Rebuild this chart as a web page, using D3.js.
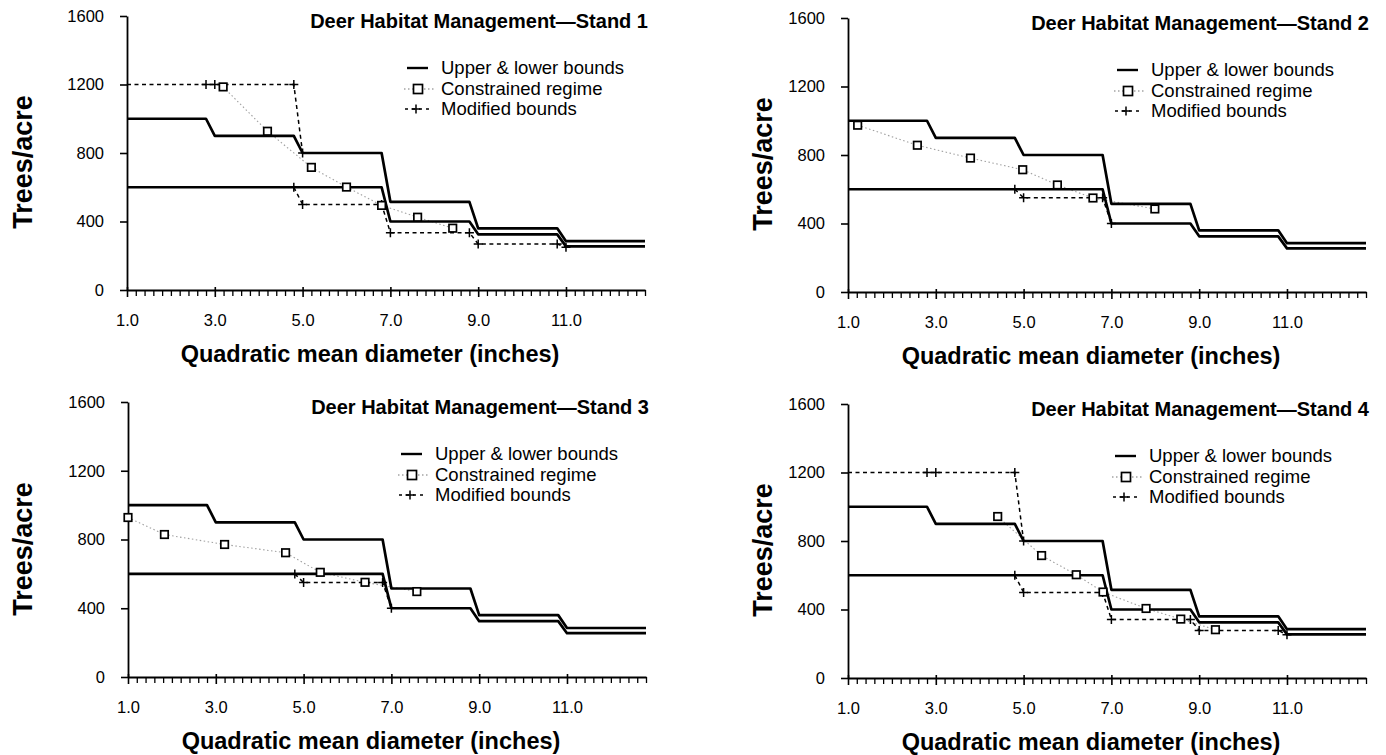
<!DOCTYPE html>
<html>
<head>
<meta charset="utf-8">
<script src="https://cdn.jsdelivr.net/npm/d3@7"></script>
<style>
  body { margin: 0; background: #fff; }
  text { font-family: "Liberation Sans", Arial, Helvetica, sans-serif; fill: #000; }
</style>
</head>
<body>
<svg id="chart" width="1386" height="755"></svg>
<script>
// ---- data -------------------------------------------------------------
const standTitles = [
  "Deer Habitat Management\u2014Stand 1",
  "Deer Habitat Management\u2014Stand 2",
  "Deer Habitat Management\u2014Stand 3",
  "Deer Habitat Management\u2014Stand 4"
];
const legendLabels = ["Upper & lower bounds", "Constrained regime", "Modified bounds"];
const yTickValues = [0, 400, 800, 1200, 1600];
const xTickValues = [1, 3, 5, 7, 9, 11];
const xTickLabels = ["1.0", "3.0", "5.0", "7.0", "9.0", "11.0"];
const xTitle = "Quadratic mean diameter (inches)";
const yTitle = "Trees/acre";

// stocking bounds shared by all stands (diameter, trees/acre)
const boundDiam  = [1.0, 2.8, 3.0, 4.8, 5.0, 6.8, 7.0, 8.8, 9.0, 10.8, 11.0, 12.8];
const upperBound = [1000, 1000, 900, 900, 800, 800, 515, 515, 360, 360, 285, 285];
const lowerBound = [600, 600, 600, 600, 600, 600, 400, 400, 325, 325, 255, 255];

// constrained regimes (diameter, trees/acre)
const regime1 = [[3.19, 1186], [4.2, 927], [5.2, 716], [6.0, 601], [6.8, 494], [7.62, 425], [8.42, 361]];
const regime2 = [[1.22, 974], [2.58, 857], [3.79, 782], [4.98, 714], [5.77, 625], [6.58, 549], [7.99, 485]];
const regime3 = [[1.0, 928], [1.83, 829], [3.2, 771], [4.59, 723], [5.38, 609], [6.4, 551], [7.58, 497]];
const regime4 = [[4.41, 943], [5.41, 715], [6.2, 603], [6.81, 502], [7.79, 406], [8.58, 344], [9.37, 282]];

// modified bounds (diameter, trees/acre)
const modUpper1 = [[1.0, 1200], [2.8, 1200], [3.0, 1200], [4.8, 1200], [5.0, 800]];
const modLower1 = [[4.8, 600], [5.0, 500], [6.8, 500], [7.0, 335], [8.8, 335], [9.0, 268], [10.8, 268], [11.0, 250]];
const modUpper2 = [];
const modLower2 = [[4.8, 600], [5.0, 550], [6.8, 550], [7.0, 400]];
const modUpper3 = [];
const modLower3 = [[4.8, 600], [5.0, 550], [6.8, 550], [7.0, 400]];
const modUpper4 = [[1.0, 1200], [2.8, 1200], [3.0, 1200], [4.8, 1200], [5.0, 800]];
const modLower4 = [[4.8, 600], [5.0, 500], [6.8, 500], [7.0, 342], [8.8, 342], [9.0, 278], [10.8, 278], [11.0, 252]];

const regimes = [regime1, regime2, regime3, regime4];
const modUppers = [modUpper1, modUpper2, modUpper3, modUpper4];
const modLowers = [modLower1, modLower2, modLower3, modLower4];

// ---- layout -----------------------------------------------------------
const panels = [
  { left: 127, bottom: 290, top: 16,  legendX: 314, yTitleX: 23 },
  { left: 848, bottom: 292, top: 18,  legendX: 303, yTitleX: 763 },
  { left: 128, bottom: 677, top: 402, legendX: 307, yTitleX: 23 },
  { left: 848, bottom: 678, top: 404, legendX: 301, yTitleX: 763 }
];
const axisLength = 518;
const xDomain = [1, 12.8];
const yDomain = [0, 1600];

const svg = d3.select("#chart");

function plus(g, cx, cy, r) {
  g.append("path")
    .attr("d", `M${cx - r},${cy}H${cx + r}M${cx},${cy - r}V${cy + r}`)
    .attr("stroke", "#000").attr("stroke-width", 1.5).attr("fill", "none");
}
function square(g, cx, cy, s) {
  g.append("rect")
    .attr("x", cx - s / 2).attr("y", cy - s / 2)
    .attr("width", s).attr("height", s)
    .attr("fill", "#fff").attr("stroke", "#000").attr("stroke-width", 1.7);
}

panels.forEach((p, i) => {
  const x = d3.scaleLinear().domain(xDomain).range([p.left, p.left + axisLength]);
  const y = d3.scaleLinear().domain(yDomain).range([p.bottom, p.top]);
  const g = svg.append("g");

  // y axis
  const yAxis = g.append("g")
    .attr("transform", `translate(${p.left},0)`)
    .call(d3.axisLeft(y).tickValues(yTickValues).tickSize(7).tickSizeOuter(0).tickPadding(16)
      .tickFormat(d3.format("d")));
  yAxis.select(".domain").attr("stroke-width", 1.8);
  yAxis.selectAll(".tick line").attr("stroke-width", 1.6);
  yAxis.selectAll(".tick text").attr("font-size", 16.5).attr("font-family", null);

  // x axis: minor ticks every 0.2 in
  const minor = d3.range(0, 60).map(k => +(1 + k * 0.2).toFixed(1))
    .filter(v => !xTickValues.includes(v));
  const xMinor = g.append("g")
    .attr("transform", `translate(0,${p.bottom})`)
    .call(d3.axisBottom(x).tickValues(minor).tickSize(6).tickSizeOuter(0).tickFormat(""));
  xMinor.select(".domain").attr("stroke-width", 2);
  xMinor.selectAll(".tick line").attr("stroke-width", 1.3);

  // x axis: major ticks and labels
  const xAxis = g.append("g")
    .attr("transform", `translate(0,${p.bottom})`)
    .call(d3.axisBottom(x).tickValues(xTickValues).tickSize(7).tickSizeOuter(0).tickPadding(17)
      .tickFormat((d, k) => xTickLabels[k]));
  xAxis.select(".domain").remove();
  xAxis.selectAll(".tick line").attr("y1", -3).attr("stroke-width", 1.6);
  xAxis.selectAll(".tick text").attr("font-size", 16.5).attr("font-family", null);

  // titles
  g.append("text")
    .attr("x", p.left + axisLength + 3).attr("y", p.top + 12)
    .attr("text-anchor", "end").attr("font-size", 20).attr("font-weight", "bold")
    .text(standTitles[i]);
  g.append("text")
    .attr("x", p.left + 243).attr("y", p.bottom + 72)
    .attr("text-anchor", "middle").attr("font-size", 23.5).attr("font-weight", "bold")
    .text(xTitle);
  g.append("text")
    .attr("transform", `translate(${p.yTitleX + 9},${p.bottom - 128}) rotate(-90)`)
    .attr("text-anchor", "middle").attr("font-size", 27).attr("font-weight", "bold")
    .text(yTitle);

  const line = d3.line().x(d => x(d[0])).y(d => y(d[1]));

  // constrained regime path
  g.append("path").datum(regimes[i]).attr("d", line)
    .attr("fill", "none").attr("stroke", "#a0a0a0").attr("stroke-width", 1.1)
    .attr("stroke-dasharray", "1.5,2.5");

  // upper and lower bounds
  [upperBound, lowerBound].forEach(b => {
    g.append("path").datum(d3.zip(boundDiam, b)).attr("d", line)
      .attr("fill", "none").attr("stroke", "#000").attr("stroke-width", 2.7)
      .attr("stroke-linejoin", "round");
  });

  // modified bounds
  [modUppers[i], modLowers[i]].forEach(m => {
    if (!m.length) return;
    g.append("path").datum(m).attr("d", line)
      .attr("fill", "none").attr("stroke", "#000").attr("stroke-width", 1.5)
      .attr("stroke-dasharray", "4,3.5");
    m.filter(d => d[0] > 1).forEach(d => plus(g, x(d[0]), y(d[1]), 4.5));
  });

  // regime markers
  regimes[i].forEach(d => square(g, x(d[0]), y(d[1]), 7.5));

  // legend
  const lx = p.left + p.legendX;
  const rows = [p.top + 52, p.top + 73, p.top + 93];
  g.append("line").attr("x1", lx - 34).attr("x2", lx - 13).attr("y1", rows[0]).attr("y2", rows[0])
    .attr("stroke", "#000").attr("stroke-width", 2.4);
  g.append("line").attr("x1", lx - 37).attr("x2", lx - 6).attr("y1", rows[1]).attr("y2", rows[1])
    .attr("stroke", "#777").attr("stroke-width", 1.1).attr("stroke-dasharray", "1.5,2.5");
  square(g, lx - 23, rows[1], 9);
  g.append("line").attr("x1", lx - 36).attr("x2", lx - 12).attr("y1", rows[2]).attr("y2", rows[2])
    .attr("stroke", "#000").attr("stroke-width", 1.3).attr("stroke-dasharray", "3,4");
  plus(g, lx - 25, rows[2], 4.5);
  legendLabels.forEach((t, k) => {
    g.append("text").attr("x", lx).attr("y", rows[k]).attr("dy", "0.35em")
      .attr("font-size", 18.5).text(t);
  });
});
</script>
</body>
</html>
